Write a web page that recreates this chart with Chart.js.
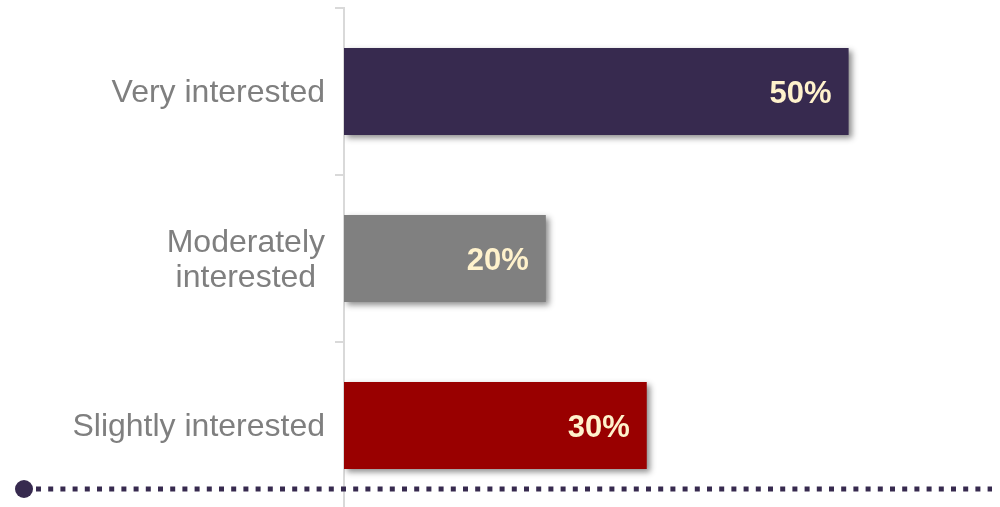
<!DOCTYPE html>
<html>
<head>
<meta charset="utf-8">
<script src="https://cdn.jsdelivr.net/npm/chart.js@4/dist/chart.umd.min.js"></script>
<style>
  html, body { margin: 0; padding: 0; background: #ffffff; overflow: hidden; }
  #wrap { width: 1000px; height: 507px; position: relative; overflow: hidden; }
</style>
</head>
<body>
<div id="wrap"><canvas id="c" width="1000" height="510"></canvas></div>
<script>
const categories = [["Very interested"], ["Moderately", "interested"], ["Slightly interested"]];
const values = [50, 20, 30];
const valueLabels = ["50%", "20%", "30%"];
const barColors = ["#372A4F", "#808080", "#990000"];

const labelFont = '32px "Liberation Sans", Arial, sans-serif';
const valueFont = 'bold 31px "Liberation Sans", Arial, sans-serif';

const shadowPlugin = {
  id: 'barShadow',
  beforeDatasetsDraw(chart) {
    const ctx = chart.ctx;
    ctx.save();
    ctx.shadowColor = 'rgba(0,0,0,0.45)';
    ctx.shadowBlur = 6;
    ctx.shadowOffsetX = 3;
    ctx.shadowOffsetY = 3;
  },
  afterDatasetsDraw(chart) {
    chart.ctx.restore();
  }
};

const labelPlugin = {
  id: 'labels',
  afterDraw(chart) {
    const ctx = chart.ctx;
    const ys = chart.scales.y;
    ctx.save();
    ctx.font = labelFont;
    ctx.fillStyle = '#7F7F7F';
    ctx.textBaseline = 'middle';
    ctx.textAlign = 'center';
    const rightEdge = chart.chartArea.left - 19;
    const lineH = 35;
    categories.forEach((lines, i) => {
      const yc = ys.getPixelForValue(i) + 2;
      const maxW = Math.max(...lines.map(l => ctx.measureText(l).width));
      const cx = rightEdge - maxW / 2;
      const y0 = yc - (lines.length - 1) * lineH / 2;
      lines.forEach((l, k) => ctx.fillText(l, cx, y0 + k * lineH));
    });
    ctx.restore();

    ctx.save();
    ctx.font = valueFont;
    ctx.fillStyle = '#FFF2CC';
    ctx.textAlign = 'right';
    ctx.textBaseline = 'middle';
    const meta = chart.getDatasetMeta(0);
    meta.data.forEach((bar, i) => {
      ctx.fillText(valueLabels[i], bar.x - 17, bar.y + 3);
    });
    ctx.restore();

    ctx.save();
    const yLine = 489;
    ctx.strokeStyle = '#372A4F';
    ctx.lineWidth = 5;
    ctx.setLineDash([5, 7.2]);
    ctx.beginPath();
    ctx.moveTo(36, yLine);
    ctx.lineTo(992, yLine);
    ctx.stroke();
    ctx.setLineDash([]);
    ctx.fillStyle = '#372A4F';
    ctx.beginPath();
    ctx.arc(24, yLine, 9, 0, Math.PI * 2);
    ctx.fill();
    ctx.restore();
  }
};

new Chart(document.getElementById('c'), {
  type: 'bar',
  data: {
    labels: categories,
    datasets: [{
      data: values,
      backgroundColor: barColors,
      borderWidth: 0,
      categoryPercentage: 1.0,
      barPercentage: 0.52
    }]
  },
  options: {
    indexAxis: 'y',
    responsive: false,
    animation: false,
    layout: { padding: { top: 8, right: 0, bottom: 1, left: 0 } },
    plugins: { legend: { display: false }, tooltip: { enabled: false } },
    scales: {
      x: { display: false, min: 0, max: 65 },
      y: {
        offset: true,
        afterFit(scale) { scale.width = 344; },
        ticks: { display: false },
        grid: { drawOnChartArea: false, tickLength: 9, color: '#D9D9D9', lineWidth: 2 },
        border: { display: true, color: '#D9D9D9', width: 2 }
      }
    }
  },
  plugins: [shadowPlugin, labelPlugin]
});
</script>
</body>
</html>
